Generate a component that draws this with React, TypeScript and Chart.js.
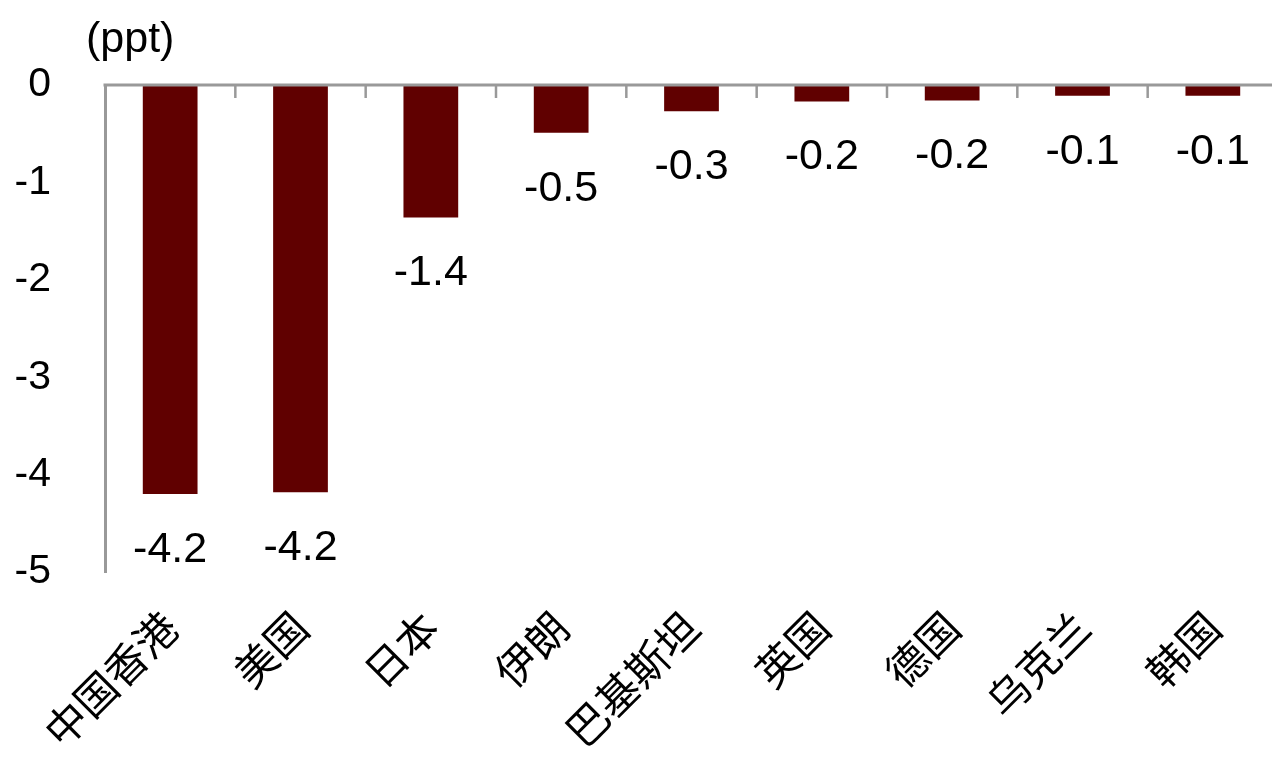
import React, { useEffect, useRef } from "react";
import { Chart, registerables } from "chart.js";

Chart.register(...registerables);

const categories = ["中国香港", "美国", "日本", "伊朗", "巴基斯坦", "英国", "德国", "乌克兰", "韩国"];
const values = [-4.2, -4.18, -1.36, -0.49, -0.27, -0.17, -0.16, -0.11, -0.11];
const yTicks = [0, -1, -2, -3, -4, -5];
const unitLabel = "(ppt)";

const BAR_COLOR = "#600000";
const AXIS_COLOR = "#999999";
const NUM_FONT = "'Liberation Sans', Arial, sans-serif";
const CJK_FONT = "'Noto Sans CJK SC', sans-serif";

const decorPlugin = {
  id: "decor",
  afterDatasetsDraw(chart: any) {
    const { ctx, chartArea, scales } = chart;
    const x = scales.x;
    const y = scales.y;
    const y0 = y.getPixelForValue(0);
    ctx.save();
    // zero line
    ctx.strokeStyle = AXIS_COLOR;
    ctx.lineWidth = 3;
    ctx.beginPath();
    ctx.moveTo(chartArea.left - 1.5, y0);
    ctx.lineTo(chartArea.right, y0);
    ctx.stroke();
    // tick marks between categories
    ctx.lineWidth = 2.5;
    const n = categories.length;
    for (let i = 0; i < n - 1; i++) {
      const px = (x.getPixelForValue(i) + x.getPixelForValue(i + 1)) / 2;
      ctx.beginPath();
      ctx.moveTo(px, y0);
      ctx.lineTo(px, y0 + 13);
      ctx.stroke();
    }
    // data labels
    ctx.fillStyle = "#000";
    ctx.font = `43px ${NUM_FONT}`;
    ctx.textAlign = "center";
    ctx.textBaseline = "middle";
    const meta = chart.getDatasetMeta(0);
    meta.data.forEach((bar: any, i: number) => {
      ctx.fillText(values[i].toFixed(1), bar.x, bar.y + 56);
    });
    // unit label
    ctx.textAlign = "left";
    ctx.textBaseline = "middle";
    ctx.fillText(unitLabel, 86, 40);
    ctx.restore();
  },
};

export default function App() {
  const ref = useRef<HTMLCanvasElement>(null);
  useEffect(() => {
    if (!ref.current) return;
    const chart = new Chart(ref.current, {
      type: "bar",
      data: {
        labels: categories,
        datasets: [
          {
            data: values,
            backgroundColor: BAR_COLOR,
            borderWidth: 0,
            categoryPercentage: 1,
            barPercentage: 0.42,
          },
        ],
      },
      options: {
        animation: false,
        responsive: false,
        maintainAspectRatio: false,
        layout: { padding: { top: 85, right: 3, left: 0, bottom: 0 } },
        plugins: { legend: { display: false }, tooltip: { enabled: false } },
        scales: {
          x: {
            position: "bottom",
            grid: { display: false },
            border: { display: false },
            ticks: {
              color: "#000",
              font: { family: CJK_FONT, size: 42 },
              minRotation: 45,
              maxRotation: 45,
              autoSkip: false,
              padding: 22,
            },
            afterFit(scale: any) {
              scale.height = 771 - 572;
            },
          },
          y: {
            min: -5,
            max: 0,
            grid: { display: false },
            border: { display: true, color: AXIS_COLOR, width: 3 },
            afterBuildTicks(scale: any) {
              scale.ticks = yTicks.map((v) => ({ value: v }));
            },
            ticks: {
              color: "#000",
              font: { family: NUM_FONT, size: 41 },
              padding: 46,
              callback: (v: any) => String(v),
            },
            afterFit(scale: any) {
              scale.width = 105;
            },
          },
        },
      },
      plugins: [decorPlugin],
    });
    return () => chart.destroy();
  }, []);
  return (
    <div style={{ position: "fixed", left: 0, top: 0, width: 1272, height: 771, overflow: "hidden", background: "#fff" }}>
      <canvas ref={ref} width={1281} height={771} style={{ display: "block" }} />
    </div>
  );
}
